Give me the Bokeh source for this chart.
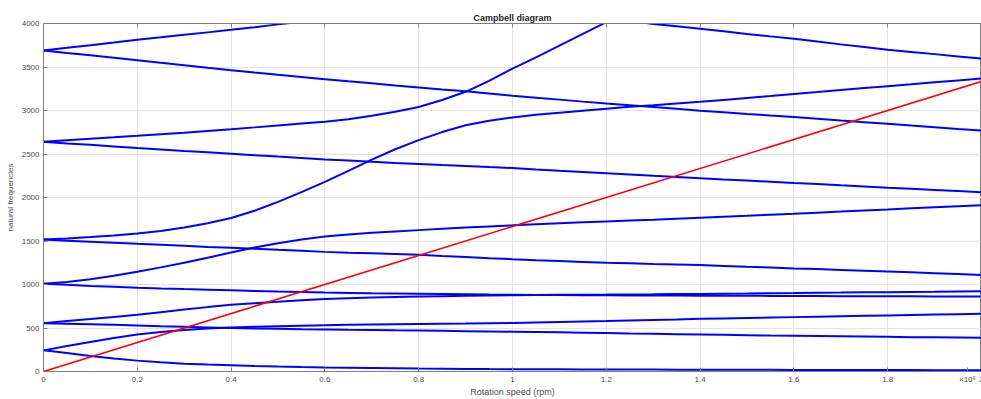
import numpy as np
from bokeh.plotting import figure
from bokeh.models import Range1d, FixedTicker, LinearAxis
from bokeh.embed import file_html
from bokeh.resources import INLINE

nan = float("nan")

# rotation speed, in units of 1e5 rpm
speed = [0.0, 0.05, 0.1, 0.15, 0.2, 0.25, 0.3, 0.35, 0.4, 0.45, 0.5, 0.55, 0.6, 0.65, 0.7, 0.75,
         0.8, 0.85, 0.9, 0.95, 1.0, 1.05, 1.1, 1.15, 1.2, 1.25, 1.3, 1.35, 1.4, 1.45, 1.5, 1.55,
         1.6, 1.65, 1.7, 1.75, 1.8, 1.85, 1.9, 1.95, 2.0]

# natural frequencies (Hz) of each whirl branch (bw = backward, fw = forward)
mode1_bw = [243, 212, 178, 150, 125, 105, 90, 80, 72, 64, 57, 51, 46, 43, 40, 37,
            34, 32, 30, 28, 27, 26, 25, 24, 23, 22, 22, 21, 21, 20, 20, 19,
            18, 18, 17, 17, 16, 16, 15, 15, 15]
mode1_fw = [243, 292, 340, 385, 425, 455, 478, 493, 505, 513, 520, 526, 532, 536, 540, 544,
            547, 550, 552, 555, 558, 564, 570, 575, 580, 586, 592, 598, 605, 610, 615, 620,
            625, 630, 635, 640, 645, 650, 655, 659, 663]
mode2_bw = [556, 550, 543, 536, 529, 521, 514, 506, 499, 495, 491, 487, 484, 480, 477, 473,
            470, 467, 464, 461, 458, 454, 450, 446, 442, 437, 433, 429, 425, 421, 417, 413,
            410, 407, 404, 401, 398, 395, 393, 391, 389]
mode2_fw = [556, 580, 603, 627, 651, 682, 712, 740, 766, 785, 802, 818, 832, 842, 850, 856,
            861, 866, 870, 874, 877, 879, 881, 883, 884, 886, 887, 890, 892, 895, 897, 900,
            902, 905, 907, 910, 912, 915, 917, 920, 922]
mode3_bw = [1009, 996, 984, 974, 964, 955, 947, 940, 933, 926, 919, 913, 907, 903, 899, 896,
            893, 890, 887, 884, 882, 880, 879, 877, 876, 875, 874, 873, 872, 871, 870, 869,
            868, 867, 866, 865, 865, 864, 863, 862, 861]
mode3_fw = [1009, 1030, 1060, 1100, 1147, 1197, 1250, 1308, 1368, 1425, 1475, 1517, 1552, 1575, 1594, 1610,
            1625, 1640, 1655, 1668, 1680, 1693, 1705, 1715, 1725, 1735, 1745, 1757, 1768, 1779, 1790, 1802,
            1813, 1826, 1838, 1851, 1863, 1876, 1888, 1900, 1912]
mode4_bw = [1516, 1504, 1492, 1480, 1467, 1456, 1444, 1432, 1421, 1410, 1398, 1387, 1375, 1366, 1358, 1350,
            1341, 1328, 1316, 1303, 1291, 1280, 1270, 1260, 1250, 1243, 1236, 1230, 1223, 1214, 1204, 1195,
            1185, 1177, 1168, 1159, 1150, 1140, 1130, 1120, 1109]
mode4_fw = [1516, 1528, 1545, 1563, 1585, 1615, 1655, 1705, 1765, 1848, 1950, 2062, 2180, 2305, 2435, 2555,
            2660, 2752, 2830, 2882, 2920, 2950, 2975, 2998, 3020, 3042, 3060, 3080, 3100, 3122, 3145, 3167,
            3190, 3212, 3235, 3258, 3280, 3302, 3325, 3346, 3367]
mode5_bw = [2640, 2622, 2605, 2587, 2568, 2552, 2535, 2519, 2503, 2487, 2470, 2454, 2438, 2424, 2410, 2397,
            2385, 2373, 2362, 2350, 2339, 2323, 2308, 2294, 2280, 2265, 2250, 2236, 2222, 2208, 2195, 2181,
            2167, 2154, 2140, 2127, 2113, 2100, 2087, 2074, 2061]
mode5_fw = [2640, 2658, 2676, 2692, 2709, 2727, 2745, 2765, 2785, 2806, 2828, 2850, 2870, 2900, 2940, 2985,
            3040, 3120, 3215, 3340, 3482, 3610, 3745, 3880, 4015, nan, nan, nan, nan, nan, nan, nan,
            nan, nan, nan, nan, nan, nan, nan, nan, nan]
mode6_bw = [3691, 3662, 3634, 3605, 3577, 3548, 3520, 3491, 3463, 3436, 3410, 3385, 3360, 3335, 3312, 3288,
            3265, 3242, 3220, 3195, 3170, 3147, 3125, 3102, 3080, 3060, 3040, 3019, 2998, 2979, 2960, 2942,
            2925, 2905, 2885, 2866, 2847, 2827, 2808, 2788, 2769]
mode6_fw = [3691, 3720, 3750, 3781, 3813, 3841, 3870, 3898, 3927, 3958, 3990, 4020, nan, nan, nan, nan,
            nan, nan, nan, nan, nan, nan, nan, nan, nan, nan, nan, nan, nan, nan, nan, nan,
            nan, nan, nan, nan, nan, nan, nan, nan, nan]
mode7_bw = [nan, nan, nan, nan, nan, nan, nan, nan, nan, nan, nan, nan, nan, nan, nan, nan,
            nan, nan, nan, nan, nan, nan, nan, nan, nan, 4030, 3995, 3968, 3940, 3910, 3880, 3852,
            3825, 3792, 3760, 3730, 3699, 3673, 3648, 3622, 3596]

# 1x excitation line (rotation frequency)
excit_speed = [0.0, 2.0]
excit_freq = [0.0, 3333.3]

x_ticks = [0, 0.2, 0.4, 0.6, 0.8, 1.0, 1.2, 1.4, 1.6, 1.8, 2.0]
y_ticks = [0, 500, 1000, 1500, 2000, 2500, 3000, 3500, 4000]
exponent_tick = 1.97          # where the "×10⁵" multiplier is written on the x axis
exponent_text = "×10⁵"

curves = [mode1_bw, mode1_fw, mode2_bw, mode2_fw, mode3_bw, mode3_fw,
          mode4_bw, mode4_fw, mode5_bw, mode5_fw, mode6_bw, mode6_fw, mode7_bw]

FONT = "Liberation Sans"
AX = "#808080"
LBL = "#4d4d4d"

p = figure(width=981, height=399, output_backend="svg", toolbar_location=None,
           x_range=Range1d(0, 2), y_range=Range1d(0, 4000),
           title="Campbell diagram",
           min_border_left=43, min_border_right=0, min_border_top=23, min_border_bottom=26)

p.title.align = "center"
p.title.text_font = FONT
p.title.text_font_size = "9px"
p.title.text_font_style = "bold"
p.title.text_color = "#262626"
p.title.offset = 0
p.title.standoff = 2

p.outline_line_color = AX
p.background_fill_color = "white"

for ax in (p.xaxis[0], p.yaxis[0]):
    ax.axis_line_color = AX
    ax.major_tick_line_color = AX
    ax.major_tick_in = 4
    ax.major_tick_out = 0
    ax.minor_tick_line_color = None
    ax.major_label_text_font = FONT
    ax.major_label_text_font_size = "8px"
    ax.major_label_text_color = LBL
    ax.axis_label_text_font = FONT
    ax.axis_label_text_font_style = "normal"
    ax.axis_label_text_color = LBL

p.xaxis.ticker = FixedTicker(ticks=x_ticks + [exponent_tick])
p.yaxis.ticker = FixedTicker(ticks=y_ticks)
p.xaxis.major_label_overrides = {0: "0", 1: "1", 2: "2", exponent_tick: exponent_text}
p.xaxis.axis_label = "Rotation speed (rpm)"
p.xaxis.axis_label_text_font_size = "9px"
p.xaxis.axis_label_standoff = 0
p.xaxis.major_label_standoff = 3
p.yaxis.axis_label = "natural frequencies"
p.yaxis.axis_label_text_font_size = "8px"
p.yaxis.axis_label_standoff = 4
p.yaxis.major_label_standoff = 4

top = LinearAxis(ticker=FixedTicker(ticks=x_ticks), axis_line_color=AX,
                 major_tick_line_color=AX, major_tick_in=4, major_tick_out=0,
                 minor_tick_line_color=None, major_label_text_color=None,
                 major_label_text_font_size="1px", major_label_standoff=0)
p.add_layout(top, "above")

p.xgrid.ticker = FixedTicker(ticks=x_ticks)
p.xgrid.grid_line_color = "#e3e3e3"
p.ygrid.grid_line_color = "#e3e3e3"

for c in curves:
    p.line(np.array(speed, dtype=float), np.array(c, dtype=float),
           line_color="#0000ff", line_width=2)

p.line(excit_speed, excit_freq, line_color="#ff0000", line_width=1.6)

open("out.html", "w").write(file_html(p, INLINE))
